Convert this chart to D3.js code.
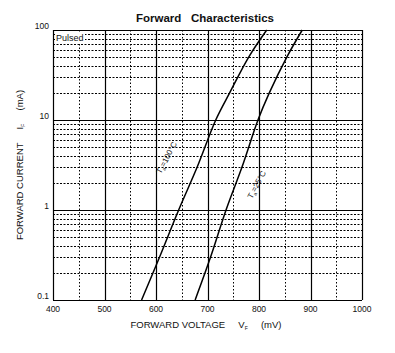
<!DOCTYPE html>
<html>
<head>
<meta charset="utf-8">
<script src="https://cdn.jsdelivr.net/npm/d3@7"></script>
<style>
  body { margin: 0; background: #fff; }
  text { font-family: "Liberation Sans", Arial, sans-serif; fill: #111; }
</style>
</head>
<body>
<div id="container"></div>
<script>
let w = 395;
let h = 353;

// data (mV, mA)
let curve25 = [[676, 0.1], [706, 0.3], [736, 1], [767, 3], [798, 10], [820, 20], [854, 50], [884, 100]];
let curve100 = [[572, 0.1], [607, 0.3], [644, 1], [680, 3], [716, 10], [743, 20], [780, 50], [815, 100]];
let xTicks = [400, 500, 600, 700, 800, 900, 1000];
let xMinor = [450, 550, 650, 750, 850, 950];
let yTicks = [0.1, 1, 10, 100];
let yTickLabels = ["0.1", "1", "10", "100"];

let pLeft = 53, pRight = 362, pTop = 30, pBottom = 300;

let viz = d3.select("#container")
  .append("svg")
    .attr("width", w)
    .attr("height", h)
    .style("background-color", "#fff");

let xScale = d3.scaleLinear().domain([400, 1000]).range([pLeft, pRight]);
let yScale = d3.scaleLog().domain([0.1, 100]).range([pBottom, pTop]);

// minor horizontal lines 2..9 in each decade
let yMinor = [];
[0.1, 1, 10].forEach(function(d){
  for (let k = 2; k <= 9; k++) yMinor.push(d * k);
});

let grid = viz.append("g");
grid.selectAll(".hminor").data(yMinor).enter().append("line")
  .attr("x1", pLeft).attr("x2", pRight)
  .attr("y1", d => Math.round(yScale(d)) + 0.5).attr("y2", d => Math.round(yScale(d)) + 0.5)
  .attr("stroke", "#000").attr("stroke-width", 1).attr("stroke-dasharray", "2,1.5");
grid.selectAll(".vminor").data(xMinor).enter().append("line")
  .attr("y1", pTop).attr("y2", pBottom)
  .attr("x1", d => Math.round(xScale(d)) + 0.5).attr("x2", d => Math.round(xScale(d)) + 0.5)
  .attr("stroke", "#000").attr("stroke-width", 1).attr("stroke-dasharray", "1.5,2");
grid.selectAll(".hmajor").data(yTicks).enter().append("line")
  .attr("x1", pLeft).attr("x2", pRight)
  .attr("y1", d => Math.round(yScale(d)) + 0.5).attr("y2", d => Math.round(yScale(d)) + 0.5)
  .attr("stroke", "#000").attr("stroke-width", 1.2);
grid.selectAll(".vmajor").data(xTicks).enter().append("line")
  .attr("y1", pTop).attr("y2", pBottom)
  .attr("x1", d => Math.round(xScale(d)) + 0.5).attr("x2", d => Math.round(xScale(d)) + 0.5)
  .attr("stroke", "#000").attr("stroke-width", 1.2);

// Pulsed label
viz.append("rect").attr("x", pLeft + 2).attr("y", pTop + 2).attr("width", 30).attr("height", 11).attr("fill", "#fff");
viz.append("text").attr("x", pLeft + 3).attr("y", pTop + 11).attr("font-size", 9).text("Pulsed");

// curves
let line = d3.line()
  .x(d => xScale(d[0]))
  .y(d => yScale(d[1]))
  .curve(d3.curveCatmullRom);
[curve25, curve100].forEach(function(c){
  viz.append("path").attr("d", line(c))
    .attr("fill", "none").attr("stroke", "#000").attr("stroke-width", 1.5);
});

// curve labels
function curveLabel(x, y, temp) {
  let t = viz.append("text")
    .attr("transform", "translate(" + x + "," + y + ") rotate(-62)")
    .attr("text-anchor", "middle")
    .attr("font-size", 8);
  t.append("tspan").text("T");
  t.append("tspan").attr("font-size", 5).attr("dy", 2).text("a");
  t.append("tspan").attr("dy", -2).text("=" + temp + "°C");
}
curveLabel(169, 159, 100);
curveLabel(259, 186, 25);

// tick labels
viz.selectAll(".xlab").data(xTicks).enter().append("text")
  .attr("x", d => xScale(d)).attr("y", 312)
  .attr("text-anchor", "middle").attr("font-size", 8.5)
  .text(d => d);
viz.selectAll(".ylab").data(yTicks).enter().append("text")
  .attr("x", pLeft - 4).attr("y", d => yScale(d) - 1)
  .attr("text-anchor", "end").attr("font-size", 8.5)
  .text((d, i) => yTickLabels[i]);

// title
viz.append("text").attr("x", 205).attr("y", 22)
  .attr("text-anchor", "middle").attr("font-size", 11.5).attr("font-weight", "bold")
  .attr("xml:space", "preserve")
  .text("Forward   Characteristics");

// x axis title
let xt = viz.append("text").attr("x", 206).attr("y", 328)
  .attr("text-anchor", "middle").attr("font-size", 9.5).attr("xml:space", "preserve");
xt.append("tspan").text("FORWARD VOLTAGE     V");
xt.append("tspan").attr("font-size", 5).attr("dy", 2).text("F");
xt.append("tspan").attr("dy", -2).text("     (mV)");

// y axis title
let yt = viz.append("text").attr("transform", "translate(23,165) rotate(-90)")
  .attr("text-anchor", "middle").attr("font-size", 9.5).attr("xml:space", "preserve");
yt.append("tspan").text("FORWARD CURRENT     I");
yt.append("tspan").attr("font-size", 5).attr("dy", 2).text("F");
yt.append("tspan").attr("dy", -2).text("     (mA)");
</script>
</body>
</html>
